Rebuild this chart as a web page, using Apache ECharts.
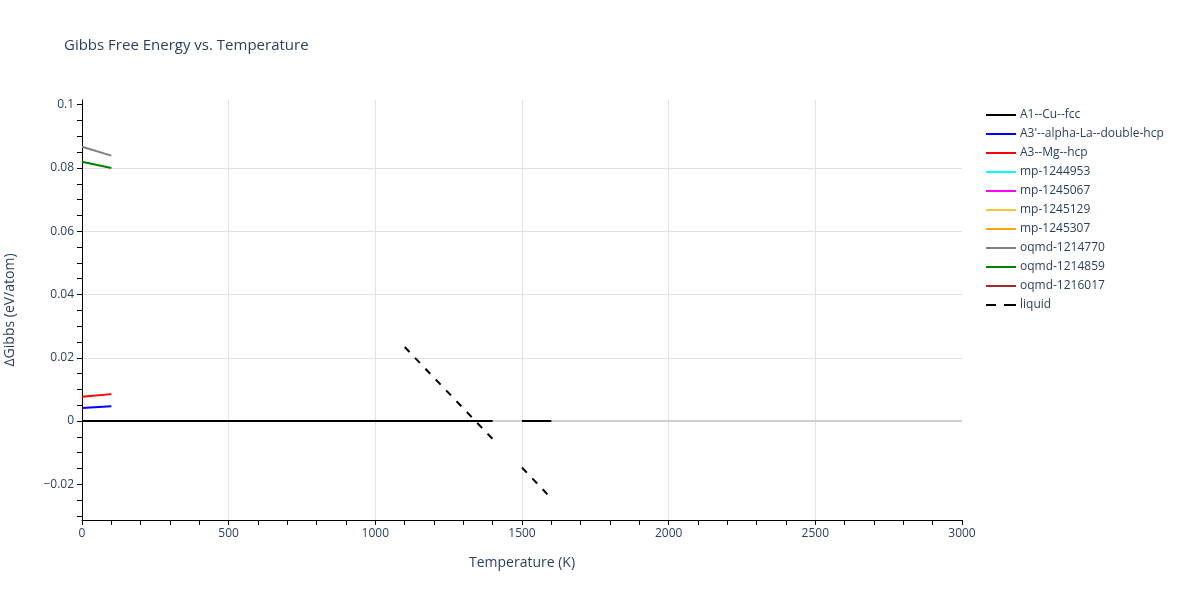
<!DOCTYPE html>
<html>
<head>
<meta charset="utf-8">
<script src="https://cdn.jsdelivr.net/npm/echarts@6/dist/echarts.min.js"></script>
<style>
  html, body { margin: 0; padding: 0; background: #fff; }
  #main { width: 1200px; height: 600px; }
</style>
</head>
<body>
<div id="main"></div>
<script>
// temperatures (K) and ΔGibbs values (eV/atom), null = gap
const tLow = [0, 100];
const tCu = [0, 100, 200, 300, 400, 500, 600, 700, 800, 900, 1000, 1100, 1200, 1300, 1400, 1450, 1500, 1600];
const cuFcc = [0, 0, 0, 0, 0, 0, 0, 0, 0, 0, 0, 0, 0, 0, 0, null, 0, 0];
const alphaLa = [0.0041, 0.0047];
const mgHcp = [0.0077, 0.0085];
const oqmd1214770 = [0.0867, 0.0839];
const oqmd1214859 = [0.0820, 0.0800];
const tLiquid = [1100, 1200, 1300, 1400, 1450, 1500, 1600];
const liquid = [0.0234, 0.0137, 0.0040, -0.0057, null, -0.0147, -0.0245];

const xLabels = [0, 500, 1000, 1500, 2000, 2500, 3000];
const xTicks = [0, 100, 200, 300, 400, 500, 600, 700, 800, 900, 1000, 1100, 1200, 1300, 1400, 1500,
  1600, 1700, 1800, 1900, 2000, 2100, 2200, 2300, 2400, 2500, 2600, 2700, 2800, 2900, 3000];
const yLabels = [-0.02, 0, 0.02, 0.04, 0.06, 0.08, 0.1];
const yTicks = [-0.03, -0.025, -0.02, -0.015, -0.01, -0.005, 0, 0.005, 0.01, 0.015, 0.02, 0.025, 0.03,
  0.035, 0.04, 0.045, 0.05, 0.055, 0.06, 0.065, 0.07, 0.075, 0.08, 0.085, 0.09, 0.095, 0.1];

const font = '"Open Sans", Verdana, Arial, sans-serif';
const txt = '#2a3f5f';
const gridColor = '#e2e2e2';

function pairs(xs, ys) {
  return xs.map((x, i) => [x, ys[i]]);
}

function line(name, color, data, dashed) {
  return {
    name: name,
    type: 'line',
    data: data,
    showSymbol: false,
    symbol: 'none',
    connectNulls: false,
    z: 3,
    lineStyle: { color: color, width: 2, type: dashed ? [7, 8] : 'solid' },
    itemStyle: { color: color }
  };
}

const names = ['A1--Cu--fcc', "A3'--alpha-La--double-hcp", 'A3--Mg--hcp', 'mp-1244953', 'mp-1245067',
  'mp-1245129', 'mp-1245307', 'oqmd-1214770', 'oqmd-1214859', 'oqmd-1216017', 'liquid'];

let myChart = echarts.init(document.getElementById('main'));
let option = {
  animation: false,
  backgroundColor: '#fff',
  title: {
    text: 'Gibbs Free Energy vs. Temperature',
    left: 59,
    top: 33,
    textStyle: { fontFamily: font, fontSize: 15, fontWeight: 'normal', color: txt }
  },
  legend: {
    orient: 'vertical',
    left: 981,
    top: 104,
    itemWidth: 30,
    itemHeight: 2,
    itemGap: 7,
    data: names.map(n => ({ name: n, icon: n === 'liquid' ? 'path://M0,0L10,0L10,2L0,2ZM18,0L30,0L30,2L18,2Z' : 'rect' })),
    textStyle: { fontFamily: font, fontSize: 12, color: txt, padding: [0, 0, 0, -1] }
  },
  grid: { left: 82, right: 238, top: 100, bottom: 80, outerBoundsMode: 'none' },
  xAxis: [
    {
      type: 'value',
      min: 0,
      max: 3000,
      name: 'Temperature (K)',
      nameLocation: 'middle',
      nameGap: 36,
      nameTextStyle: { fontFamily: font, fontSize: 14, color: txt },
      axisLine: { show: true, onZero: false, lineStyle: { color: '#000', width: 1 } },
      axisTick: { show: true, customValues: xLabels, length: 5, lineStyle: { color: '#000' } },
      axisLabel: {
        customValues: xLabels,
        fontFamily: font, fontSize: 12, color: txt, margin: 8,
        formatter: v => String(v)
      },
      splitLine: { show: true, showMinLine: false, showMaxLine: false, lineStyle: { color: gridColor, width: 1 } }
    },
    {
      // minor ticks only
      type: 'value',
      position: 'bottom',
      min: 0,
      max: 3000,
      axisLine: { show: false, onZero: false },
      axisTick: { show: true, customValues: xTicks, length: 5, lineStyle: { color: '#000' } },
      axisLabel: { show: false },
      splitLine: { show: false }
    }
  ],
  yAxis: [
    {
      type: 'value',
      min: -0.0313,
      max: 0.1015,
      name: 'ΔGibbs (eV/atom)',
      nameLocation: 'middle',
      nameGap: 65,
      nameTextStyle: { fontFamily: font, fontSize: 14, color: txt },
      axisLine: { show: true, onZero: false, lineStyle: { color: '#000', width: 1 } },
      axisTick: { show: true, customValues: yLabels, length: 5, lineStyle: { color: '#000' } },
      axisLabel: {
        customValues: yLabels,
        fontFamily: font, fontSize: 12, color: txt, margin: 8,
        formatter: v => (v < 0 ? '\u2212' + Math.abs(v) : String(v))
      },
      splitLine: { show: true, showMinLine: false, showMaxLine: false, lineStyle: { color: gridColor, width: 1 } }
    },
    {
      // minor ticks only
      type: 'value',
      position: 'left',
      min: -0.0313,
      max: 0.1015,
      axisLine: { show: false, onZero: false },
      axisTick: { show: true, customValues: yTicks, length: 5, lineStyle: { color: '#000' } },
      axisLabel: { show: false },
      splitLine: { show: false }
    }
  ],
  series: [
    {
      name: 'zeroline',
      type: 'line',
      data: [],
      z: 1,
      markLine: {
        silent: true,
        z: 1,
        symbol: 'none',
        label: { show: false },
        lineStyle: { color: '#cfcfcf', width: 2, type: 'solid' },
        data: [{ yAxis: 0 }]
      }
    },
    line('A1--Cu--fcc', '#000000', pairs(tCu, cuFcc)),
    line("A3'--alpha-La--double-hcp", '#0000ff', pairs(tLow, alphaLa)),
    line('A3--Mg--hcp', '#ff0000', pairs(tLow, mgHcp)),
    line('mp-1244953', '#00ffff', []),
    line('mp-1245067', '#ff00ff', []),
    line('mp-1245129', '#f0c63c', []),
    line('mp-1245307', '#ffa500', []),
    line('oqmd-1214770', '#808080', pairs(tLow, oqmd1214770)),
    line('oqmd-1214859', '#008000', pairs(tLow, oqmd1214859)),
    line('oqmd-1216017', '#a52a2a', []),
    line('liquid', '#000000', pairs(tLiquid, liquid), true)
  ]
};
myChart.setOption(option);
</script>
</body>
</html>
